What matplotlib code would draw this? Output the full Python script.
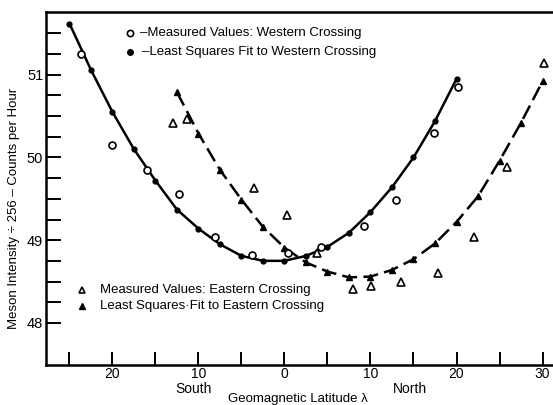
import numpy as np
import matplotlib
matplotlib.use('Agg')
import matplotlib.pyplot as plt

# Western crossing: least squares fit points and measured values
west_fit_lat = [-25, -22.5, -20, -17.5, -15, -12.5, -10, -7.5, -5, -2.5, 0, 2.5, 5, 7.5, 10, 12.5, 15, 17.5, 20]
west_fit_val = [51.62, 51.06, 50.55, 50.10, 49.72, 49.37, 49.14, 48.95, 48.81, 48.75, 48.75, 48.81, 48.92, 49.09,
                49.34, 49.64, 50.00, 50.44, 50.95]
west_meas_lat = [-23.7, -20.0, -16.0, -12.3, -8.1, -3.8, 0.4, 4.3, 9.2, 13.0, 17.4, 20.2]
west_meas_val = [51.25, 50.15, 49.85, 49.56, 49.04, 48.82, 48.84, 48.92, 49.17, 49.49, 50.30, 50.85]

# Eastern crossing
east_fit_lat = [-12.5, -10, -7.5, -5, -2.5, 0, 2.5, 5, 7.5, 10, 12.5, 15, 17.5, 20, 22.5, 25, 27.5, 30]
east_fit_val = [50.79, 50.29, 49.85, 49.49, 49.16, 48.91, 48.73, 48.62, 48.55, 48.56, 48.64, 48.77, 48.96,
                49.22, 49.53, 49.96, 50.42, 50.92]
east_meas_lat = [-13.0, -11.3, -3.5, 0.3, 3.8, 8.0, 10.1, 13.5, 17.9, 22.0, 25.9, 30.2]
east_meas_val = [50.42, 50.46, 49.63, 49.30, 48.84, 48.41, 48.45, 48.49, 48.60, 49.04, 49.88, 51.14]

x_ticks = [-25, -20, -15, -10, -5, 0, 5, 10, 15, 20, 25, 30]
x_labels = ['', '20', '', '10', '', '0', '', '10', '', '20', '', '30']
y_ticks = [48, 49, 50, 51]

plt.rcParams['font.family'] = ['Liberation Sans', 'DejaVu Sans']

W, H = 553, 405
fig = plt.figure(figsize=(W / 100, H / 100), dpi=100)
ax = fig.add_axes([46 / W, 1 - 365 / H, 1 - 46 / W, (365 - 12) / H])

ax.plot(west_fit_lat, west_fit_val, color='k', lw=1.8, marker='o', ms=3.5, mfc='k', mec='k', zorder=3)
ax.plot(east_fit_lat, east_fit_val, color='k', lw=1.8, ls=(0, (6, 2.5)), marker='^', ms=4, mfc='k', mec='k', zorder=3)
ax.plot(west_meas_lat, west_meas_val, ls='none', marker='o', ms=5, mfc='white', mec='k', mew=1.2, zorder=4)
ax.plot(east_meas_lat, east_meas_val, ls='none', marker='^', ms=5.5, mfc='white', mec='k', mew=1.2, zorder=4)

ax.set_xlim(-27.73, 31.22)
ax.set_ylim(47.49, 51.76)

ax.spines['right'].set_visible(False)
for s in ['left', 'bottom', 'top']:
    ax.spines[s].set_linewidth(1.8)

ax.set_xticks(x_ticks)
ax.set_xticklabels(x_labels)
ax.set_yticks(y_ticks)
ax.set_yticklabels([str(v) for v in y_ticks])
ax.set_yticks([v for v in np.arange(48.25, 51.51, 0.25) if v not in y_ticks], minor=True)
ax.tick_params(axis='x', direction='in', length=9.5, width=1.4, pad=1.5, labelsize=10)
ax.tick_params(axis='y', which='both', direction='in', length=11, width=1.4, pad=2, labelsize=10.5)

# axis titles
fig.text(14 / W, 1 - 208 / H, 'Meson Intensity \u00f7 256 \u2013 Counts per Hour', rotation=90,
         ha='center', va='center', fontsize=9.5)
fig.text(298 / W, 1 - 399 / H, 'Geomagnetic Latitude \u03bb', ha='center', va='center', fontsize=9.5)
fig.text(194 / W, 1 - 389 / H, 'South', ha='center', va='center', fontsize=10)
fig.text(410 / W, 1 - 389 / H, 'North', ha='center', va='center', fontsize=10)

# key, top
ax.plot([(130 - 46) / 507], [(365 - 33) / 353], transform=ax.transAxes, marker='o', ms=4.5,
        mfc='white', mec='k', mew=1.2, clip_on=False)
ax.plot([(130 - 46) / 507], [(365 - 52) / 353], transform=ax.transAxes, marker='o', ms=4,
        mfc='k', mec='k', clip_on=False)
fig.text(140 / W, 1 - 33 / H, '\u2013Measured Values: Western Crossing', ha='left', va='center', fontsize=9.5)
fig.text(142 / W, 1 - 52 / H, '\u2013Least Squares Fit to Western Crossing', ha='left', va='center', fontsize=9.5)

# key, bottom
ax.plot([(82 - 46) / 507], [(365 - 290) / 353], transform=ax.transAxes, marker='^', ms=5,
        mfc='white', mec='k', mew=1.2, clip_on=False)
ax.plot([(82 - 46) / 507], [(365 - 306) / 353], transform=ax.transAxes, marker='^', ms=4.5,
        mfc='k', mec='k', clip_on=False)
fig.text(100 / W, 1 - 290 / H, 'Measured Values: Eastern Crossing', ha='left', va='center', fontsize=9.5)
fig.text(100 / W, 1 - 306 / H, 'Least Squares\u00b7Fit to Eastern Crossing', ha='left', va='center', fontsize=9.5)

fig.savefig('out.png', dpi=100)
